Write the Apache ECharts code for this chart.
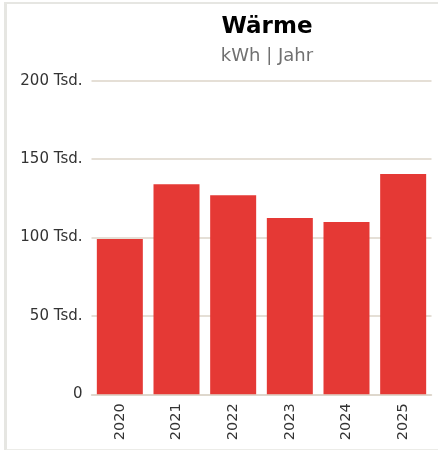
<!DOCTYPE html>
<html>
<head>
<meta charset="utf-8">
<script src="https://cdn.jsdelivr.net/npm/echarts@6/dist/echarts.min.js"></script>
<style>
  html, body { margin: 0; padding: 0; background: #fff; overflow: hidden; width: 438px; height: 450px; }
  #frame { position: absolute; left: 4px; top: 2px; width: 431px; height: 445px;
           border-left: 3px solid #e6e6e2; border-top: 2px solid #e6e6e2; border-bottom: 2px solid #ececE8; }
  #chart { position: absolute; left: 0; top: 0; width: 438px; height: 450px; }
</style>
</head>
<body>
<div id="frame"></div>
<div id="chart"></div>
<script>
const categories = ['2020', '2021', '2022', '2023', '2024', '2025'];
const values = [99000, 134000, 127000, 112400, 109900, 140500];
const yTicks = { min: 0, max: 200000, interval: 50000 };
const FONT = "'DejaVu Sans', Verdana, sans-serif";

const chart = echarts.init(document.getElementById('chart'), null, { renderer: 'canvas' });
chart.setOption({
  backgroundColor: 'transparent',
  animation: false,
  title: {
    text: 'Wärme',
    subtext: 'kWh | Jahr',
    left: 262,
    top: 11,
    textAlign: 'center',
    itemGap: 8,
    textStyle: { fontFamily: FONT, fontWeight: 'bold', fontSize: 23, color: '#000' },
    subtextStyle: { fontFamily: FONT, fontSize: 18, color: '#707070' }
  },
  grid: { left: 91.5, right: 6.5, top: 80.7, bottom: 55.7, containLabel: false },
  xAxis: {
    type: 'category',
    data: categories,
    axisLine: { show: true, lineStyle: { color: '#dcd5c9', width: 1.5 } },
    axisTick: { show: false },
    axisLabel: { rotate: 90, fontFamily: FONT, fontSize: 14.5, color: '#333', margin: 9 }
  },
  yAxis: {
    type: 'value',
    min: yTicks.min,
    max: yTicks.max,
    interval: yTicks.interval,
    axisLine: { show: false },
    axisTick: { show: false },
    splitLine: { lineStyle: { color: '#dcd5c9', width: 1.5 } },
    axisLabel: {
      fontFamily: FONT, fontSize: 15, color: '#333', margin: 9,
      formatter: v => v === 0 ? '0' : (v / 1000) + ' Tsd.'
    }
  },
  series: [{
    type: 'bar',
    data: values,
    barWidth: 46,
    itemStyle: { color: '#e53935' }
  }]
});
</script>
</body>
</html>
